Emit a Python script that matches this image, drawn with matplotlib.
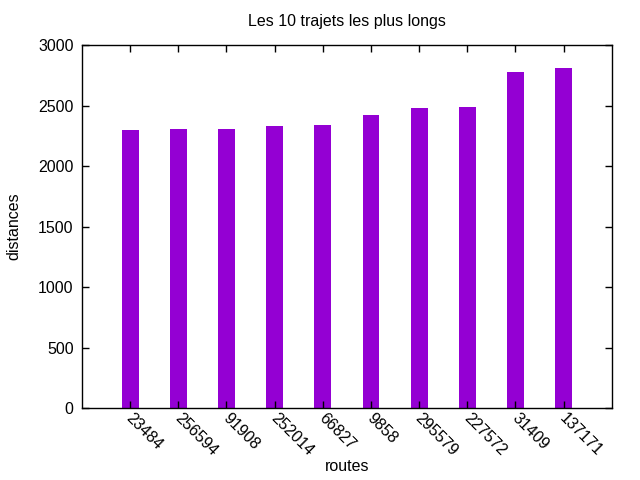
import matplotlib.pyplot as plt
import matplotlib.transforms as mtransforms
import numpy as np

plt.rcParams['font.family'] = ['Liberation Sans', 'DejaVu Sans']

routes = ['23484', '256594', '91908', '252014', '66827',
          '9858', '295579', '227572', '31409', '137171']
distances = [2297, 2306, 2306, 2331, 2339, 2421, 2479, 2488, 2777, 2810]


def plot_data(routes, distances):
    fig = plt.figure(figsize=(6.4, 4.8), dpi=100)
    ax = fig.add_axes([0.128, 0.15, 0.828, 0.756])

    x = np.arange(len(routes))
    ax.bar(x, distances, 0.35, color='#9400d3')

    ax.set_xlim(-1, 10)
    ax.set_ylim(0, 3000)
    ax.set_yticks(range(0, 3001, 500))
    ax.set_xticks(x)
    ax.set_xticklabels(routes, rotation=-45, ha='left', va='top',
                       rotation_mode='anchor')
    ax.tick_params(direction='in', length=5, width=1, labelsize=11.5,
                   top=True, right=True, pad=6)
    ax.tick_params(axis='x', pad=2)
    # nudge rotated labels a bit to the right, like gnuplot does
    shift = mtransforms.ScaledTranslation(4 / 100, 0, fig.dpi_scale_trans)
    for lbl in ax.get_xticklabels():
        lbl.set_transform(lbl.get_transform() + shift)
    for s in ax.spines.values():
        s.set_linewidth(1)

    ax.set_title('Les 10 trajets les plus longs', fontsize=11.5, pad=14)
    ax.set_xlabel('routes', fontsize=11.5, labelpad=0)
    ax.set_ylabel('distances', fontsize=11.5, labelpad=12)

    fig.savefig('out.png')


def main():
    plot_data(routes, distances)


if __name__ == "__main__":
    main()
